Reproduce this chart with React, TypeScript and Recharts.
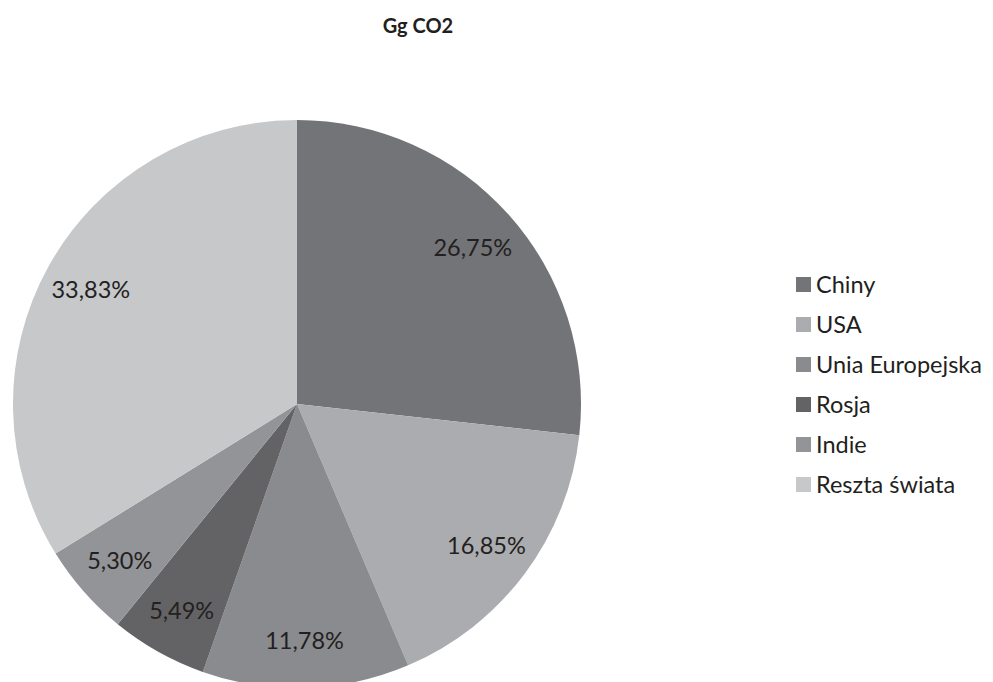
import React from "react";
import { PieChart, Pie, Cell, Legend } from "recharts";

const names = ["Chiny", "USA", "Unia Europejska", "Rosja", "Indie", "Reszta świata"];
const values = [26.75, 16.85, 11.78, 5.49, 5.3, 33.83];
const colors = ["#737478", "#abacaf", "#8a8b8e", "#636365", "#939497", "#c7c8ca"];

const data = names.map((name, i) => ({ name, value: values[i] }));

const FONT = "Lato, 'Open Sans', sans-serif";
const RAD = Math.PI / 180;

function renderLabel(props: any) {
  const { cx, cy, midAngle, value } = props;
  const r = 236;
  const x = cx + r * Math.cos(-midAngle * RAD);
  const y = cy + r * Math.sin(-midAngle * RAD);
  return (
    <text
      x={x}
      y={y}
      textAnchor="middle"
      dominantBaseline="central"
      fill="#231f20"
      fontSize={23.5}
      fontFamily={FONT}
    >
      {value.toFixed(2).replace(".", ",") + "%"}
    </text>
  );
}

function LegendBox() {
  return (
    <div style={{ fontFamily: FONT, fontSize: 23.5, color: "#231f20" }}>
      {data.map((d, i) => (
        <div key={d.name} style={{ display: "flex", alignItems: "center", height: 40 }}>
          <span
            style={{
              display: "inline-block",
              width: 15,
              height: 15,
              background: colors[i],
              marginRight: 5,
            }}
          />
          <span>{d.name}</span>
        </div>
      ))}
    </div>
  );
}

export default function App() {
  return (
    <div style={{ position: "fixed", left: 0, top: 0, width: 993, height: 682, background: "#fff", overflow: "hidden" }}>
      <div
        style={{
          position: "absolute",
          left: 0,
          width: 836,
          top: 13,
          textAlign: "center",
          fontFamily: FONT,
          fontWeight: 700,
          fontSize: 20,
          color: "#231f20",
        }}
      >
        Gg CO2
      </div>
      <PieChart width={993} height={682} margin={{ top: 0, right: 0, bottom: 0, left: 0 }}>
        <Pie
          data={data}
          dataKey="value"
          nameKey="name"
          cx={297}
          cy={404}
          outerRadius={284}
          startAngle={90}
          endAngle={-270}
          stroke="none"
          label={renderLabel}
          labelLine={false}
          isAnimationActive={false}
        >
          {data.map((d, i) => (
            <Cell key={d.name} fill={colors[i]} />
          ))}
        </Pie>
        <Legend
          layout="vertical"
          align="right"
          verticalAlign="top"
          wrapperStyle={{ left: 796, top: 264, width: 197 }}
          content={() => <LegendBox />}
        />
      </PieChart>
    </div>
  );
}
